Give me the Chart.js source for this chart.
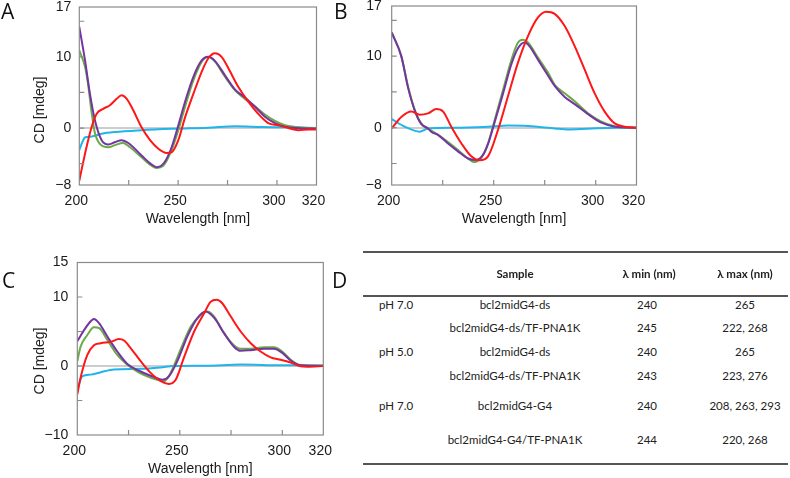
<!DOCTYPE html>
<html>
<head>
<meta charset="utf-8">
<script src="https://cdn.jsdelivr.net/npm/chart.js@4/dist/chart.umd.min.js"></script>
<style>
  body { margin: 0; background: #fff; }
  #wrap { position: relative; width: 790px; height: 478px; overflow: hidden; font-family: "Liberation Sans", Arial, sans-serif; }
  canvas { position: absolute; }
  .panel { position: absolute; font-family: "Open Sans", sans-serif; font-size: 21px; color: #111; line-height: 1; }
  .ytitle { position: absolute; font-size: 14px; color: #222; transform: rotate(-90deg); transform-origin: center; white-space: nowrap; width: 80px; text-align: center; line-height: 16px; }
  .tbl { position: absolute; font-family: Lato, "Open Sans", sans-serif; font-size: 11.5px; color: #222; white-space: nowrap; line-height: 14px; }
  .c { transform: translateX(-50%); }
  .b { font-weight: bold; }
  .rule { position: absolute; left: 363px; width: 425px; background: #555; }
</style>
</head>
<body>
<div id="wrap">
  <canvas id="chartA" width="330" height="235" style="left:0;top:0;width:330px;height:235px"></canvas>
  <canvas id="chartB" width="330" height="235" style="left:330px;top:0;width:330px;height:235px"></canvas>
  <canvas id="chartC" width="335" height="238" style="left:0;top:240px;width:335px;height:238px"></canvas>

  <div class="panel" style="left:1px;top:1px">A</div>
  <div class="panel" style="left:334px;top:1px">B</div>
  <div class="panel" style="left:2px;top:270px">C</div>
  <div class="panel" style="left:332px;top:270px">D</div>

  <div class="ytitle" style="left:-1px;top:102px">CD [mdeg]</div>
  <div class="ytitle" style="left:-1px;top:353px">CD [mdeg]</div>

  <div id="table"></div>
</div>

<script>
// panel A: pH 7.0, bcl2midG4-ds
const aGreenX = [200, 202.9, 204.4, 206.1, 207.8, 210.3, 214.7, 218, 222.2, 225.6, 231.5, 236.6, 239.1, 242.5, 246.7, 250.1, 253.5, 257.7, 261.9, 265.3, 268.7, 273.7, 278.8, 283.8, 288.9, 293.9, 299, 304, 309.1, 314, 320];
const aGreenY = [10.9, 8.6, 6.2, 2.5, -0.6, -2.2, -2.7, -2.4, -2.1, -2.7, -4.1, -5.3, -5.6, -5.3, -3.1, -0.3, 3.0, 6.7, 9.3, 10.0, 9.3, 7.2, 5.3, 4.1, 3.05, 1.9, 1.0, 0.4, 0.15, 0.05, 0];
const aPurpleX = [200, 202.9, 205.4, 207.9, 211.3, 214.7, 218, 221.4, 224.8, 231.5, 236, 239.1, 243.1, 246.7, 250.1, 253.5, 257.7, 261.9, 265.3, 268.7, 273.7, 278.8, 283.8, 288.9, 293.9, 299, 304, 310, 320];
const aPurpleY = [14.2, 9.5, 4.8, 1.1, -1.7, -2.3, -2.0, -1.7, -2.1, -3.85, -5.0, -5.5, -4.8, -2.7, 0.4, 3.7, 7.2, 9.5, 10.0, 9.4, 7.4, 5.4, 4.3, 3.0, 1.6, 0.7, 0.2, 0, -0.1];
const aRedX = [200, 202.9, 206.2, 208.8, 212.1, 215.5, 218.9, 221.4, 224, 227.3, 231.5, 235.8, 240, 244.2, 246.7, 250.1, 253.5, 257.7, 261.9, 265.3, 268.7, 272, 275.4, 280.4, 285.5, 290.5, 295.6, 300.7, 305.7, 310.8, 315.9, 320];
const aRedY = [-7.4, -3.6, 0.1, 2.0, 2.7, 3.2, 4.1, 4.6, 4.1, 2.5, 0.1, -1.7, -2.9, -3.5, -3.4, -1.7, 1.5, 4.8, 7.9, 9.8, 10.5, 10.0, 8.4, 5.8, 3.7, 2.0, 0.7, 0.4, 0, -0.3, -0.2, -0.2];
const aBlueX = [200, 201.5, 203, 206.2, 211.3, 218, 231.5, 248.4, 265.3, 278.8, 292.3, 305, 320];
const aBlueY = [-3.1, -2.0, -1.3, -1.2, -0.8, -0.55, -0.3, -0.1, 0.05, 0.25, 0.15, 0.1, 0];

// panel B: pH 5.0, bcl2midG4-ds
const bGreenX = [200, 204.7, 208, 211.3, 214.5, 217.8, 222.7, 227.6, 232.5, 237.4, 240.7, 244, 247.2, 250.5, 254.6, 258.7, 261.9, 264.4, 266.8, 271.7, 276.6, 279.9, 284.8, 289.7, 296.2, 302.8, 309.3, 314, 320];
const bGreenY = [13.3, 10, 5.8, 2.5, 0.6, -0.1, -1.0, -2.0, -3.1, -4.3, -4.8, -4.1, -2.2, 1.1, 5.3, 9.5, 11.9, 12.3, 11.9, 9.8, 7.7, 6.0, 4.8, 3.7, 2.0, 0.85, 0.2, 0.05, 0];
const bPurpleX = [200, 204.7, 208, 211.3, 214.5, 217.8, 219.5, 222.7, 227.6, 232.5, 237.4, 241.5, 244.8, 247.2, 250.5, 254.6, 258.7, 261.9, 265.2, 267.5, 271.7, 276.6, 280, 284.8, 289.7, 296.2, 302.8, 309.3, 320];
const bPurpleY = [13.3, 10, 5.6, 2.4, 0.5, -0.1, -0.6, -1.0, -2.2, -3.3, -4.3, -4.5, -3.8, -2.3, 0.8, 4.8, 8.9, 11.1, 11.9, 11.4, 9.5, 7.3, 5.8, 4.3, 3.3, 1.9, 0.7, 0.15, 0];
const bRedX = [200, 204.7, 209.6, 213.7, 217.8, 221.9, 225.2, 229.2, 234.2, 239, 243.1, 247.2, 252.1, 257, 261.9, 266.8, 271.7, 275.8, 279.9, 284.8, 289.7, 294.6, 299.5, 304.4, 309.3, 314.2, 320];
const bRedY = [-0.1, 1.5, 2.25, 1.8, 2.0, 2.6, 2.25, 0.15, -2.2, -4.0, -4.55, -4.0, -0.3, 4.4, 9.1, 12.8, 15.4, 16.2, 15.9, 14.2, 11.4, 8.1, 4.8, 2.25, 0.6, 0.15, 0];
const bBlueX = [200, 206.4, 213.7, 217.8, 230, 247.2, 257, 266.8, 280, 286.4, 296, 310, 320];
const bBlueY = [1.2, 0.15, -0.55, -0.1, 0, 0.15, 0.3, 0.25, -0.1, -0.25, -0.15, 0, 0];

// panel C: pH 7.0, bcl2midG4-G4
const cGreenX = [200, 201.6, 204.9, 208.1, 210.6, 214.6, 219.5, 224.4, 229.3, 234.1, 239, 242.3, 245.5, 250.4, 255.3, 260.2, 263.4, 266.7, 271.5, 276.4, 279.7, 284.6, 291.1, 295.9, 300, 304.1, 308.9, 314, 320];
const cGreenY = [0.7, 2.8, 4.5, 5.6, 5.5, 3.8, 1.6, 0.2, -0.8, -1.5, -2.0, -2.2, -1.0, 2.4, 5.7, 7.4, 7.9, 7.2, 4.8, 3.0, 2.5, 2.5, 2.7, 2.7, 2.1, 0.9, 0.1, 0, 0];
const cPurpleX = [200, 203.3, 205.7, 208.1, 210.6, 214.6, 219.5, 224.4, 230.9, 237.4, 241.5, 244.7, 248.8, 253.7, 258.5, 262.6, 266.7, 271.5, 276.4, 279.7, 284.6, 291.1, 295.9, 300, 304.1, 308.9, 320];
const cPurpleY = [3.6, 5.2, 6.2, 6.8, 6.2, 4.3, 2.1, 0.3, -0.8, -1.6, -2.0, -1.5, 0.7, 4.3, 6.9, 7.9, 7.0, 4.8, 2.8, 2.2, 2.3, 2.5, 2.5, 1.9, 0.8, 0.1, 0];
const cRedX = [200, 201.6, 204.9, 208.1, 211.4, 216.3, 220.3, 222.8, 226, 230.9, 235.8, 240.7, 244.7, 248, 252, 257, 261.8, 265, 268, 270.7, 274.8, 279.7, 284.6, 289.4, 294.3, 299.2, 304.1, 308.9, 312.2, 320];
const cRedY = [-4.1, -1.7, 1.6, 3.0, 3.3, 3.5, 3.9, 3.7, 2.6, 0.7, -1.0, -2.2, -2.6, -2.0, 1.2, 5.0, 7.6, 9.3, 9.6, 9.1, 7.2, 5.0, 3.3, 2.1, 1.25, 0.9, 0.5, -0.05, -0.1, 0];
const cBlueX = [200, 202.4, 206.5, 211.4, 217.9, 230.9, 240.7, 247, 263, 279.7, 300, 320];
const cBlueY = [-3.4, -1.5, -1.25, -0.9, -0.5, -0.4, -0.2, 0, 0.05, 0.2, 0.1, 0.1];

// axis ticks
const xTickValues = [200, 225, 250, 275, 300, 320];
const xTickLabels = [200, 250, 300, 320];
const abTickValues = [-8, -5, 0, 5, 10, 15, 17];
const abTickLabels = [-8, 0, 10, 17];
const cTickValues = [-10, -5, 0, 5, 10, 15];
const cTickLabels = [-10, 0, 10, 15];

// table D
const tableHead = ["Sample", "λ min (nm)", "λ max (nm)"];
const tablePh = ["pH 7.0", "", "pH 5.0", "", "pH 7.0", ""];
const tableSample = ["bcl2midG4-ds", "bcl2midG4-ds/TF-PNA1K", "bcl2midG4-ds", "bcl2midG4-ds/TF-PNA1K", "bcl2midG4-G4", "bcl2midG4-G4/TF-PNA1K"];
const tableMin = ["240", "245", "240", "243", "240", "244"];
const tableMax = ["265", "222, 268", "265", "223, 276", "208, 263, 293", "220, 268"];

const colors = { green: "#6aaa48", purple: "#7435a0", red: "#ff1616", blue: "#21b4ea" };

function pts(xs, ys) {
  return xs.map((x, i) => ({ x: x, y: ys[i] }));
}

function line(data, color) {
  return {
    data: data,
    borderColor: color,
    borderWidth: 2,
    pointRadius: 0,
    cubicInterpolationMode: "monotone",
    fill: false,
  };
}

// frame + inward tick marks
const framePlugin = {
  id: "frame",
  afterDatasetsDraw(chart) {
    let ctx = chart.ctx;
    let a = chart.chartArea;
    let xs = chart.scales.x;
    let ys = chart.scales.y;
    ctx.save();
    ctx.strokeStyle = "#8a8a8a";
    ctx.lineWidth = 1.2;
    ctx.strokeRect(a.left, a.top, a.right - a.left, a.bottom - a.top);
    ctx.beginPath();
    xTickValues.forEach((v) => {
      if (v == xs.min || v == xs.max) return;
      let px = xs.getPixelForValue(v);
      ctx.moveTo(px, a.bottom);
      ctx.lineTo(px, a.bottom - 5);
    });
    ys.ticks.forEach((t) => {
      if (t.value == ys.min || t.value == ys.max) return;
      let py = ys.getPixelForValue(t.value);
      ctx.moveTo(a.left, py);
      ctx.lineTo(a.left + 5, py);
    });
    ctx.stroke();
    ctx.restore();
  },
};

function makeChart(id, sets, opt) {
  let font = { family: "'Liberation Sans', Arial, sans-serif", size: 14 };
  // first dataset is drawn on top
  return new Chart(document.getElementById(id), {
    type: "line",
    data: {
      datasets: [
        line(pts(sets[2][0], sets[2][1]), colors.red),
        line(pts(sets[1][0], sets[1][1]), colors.purple),
        line(pts(sets[0][0], sets[0][1]), colors.green),
        line(pts(sets[3][0], sets[3][1]), colors.blue),
      ],
    },
    options: {
      responsive: false,
      animation: false,
      layout: { padding: { left: 0, right: opt.right, top: opt.top, bottom: 0 } },
      plugins: { legend: { display: false }, tooltip: { enabled: false } },
      scales: {
        x: {
          type: "linear",
          min: 200,
          max: 320,
          border: { display: false },
          grid: { display: false, drawTicks: false, tickLength: 0 },
          afterBuildTicks: (s) => { s.ticks = xTickValues.map((v) => ({ value: v })); },
          afterFit: (s) => {
            s.height = opt.xh;
            s.paddingLeft = 0; s.paddingRight = 0;
          },
          ticks: {
            autoSkip: false,
            maxRotation: 0,
            padding: 8,
            labelOffset: -3,
            color: "#1a1a1a",
            font: font,
            callback: (v) => (xTickLabels.includes(v) ? String(v) : ""),
          },
          title: {
            display: opt.xTitle,
            text: "Wavelength [nm]",
            color: "#1a1a1a",
            font: font,
            padding: { top: 0, bottom: opt.xTitlePad },
          },
        },
        y: {
          min: opt.yTicks[0],
          max: opt.yTicks[opt.yTicks.length - 1],
          border: { display: false },
          grid: {
            drawTicks: false,
            tickLength: 0,
            lineWidth: 2,
            color: (c) => (c.tick && c.tick.value === 0 ? "#cdcdcd" : "rgba(0,0,0,0)"),
          },
          afterBuildTicks: (s) => { s.ticks = opt.yTicks.map((v) => ({ value: v })); },
          afterFit: (s) => {
            s.width = opt.yw;
            s.paddingTop = 0; s.paddingBottom = 0;
          },
          ticks: {
            autoSkip: false,
            padding: opt.yPad,
            color: "#1a1a1a",
            font: font,
            callback: (v) => (opt.yLabels.includes(v) ? String(v).replace("-", "\u2212") : ""),
          },
        },
      },
    },
    plugins: [framePlugin],
  });
}

makeChart("chartA", [[aGreenX, aGreenY], [aPurpleX, aPurpleY], [aRedX, aRedY], [aBlueX, aBlueY]],
  { right: 13.5, top: 7, xh: 50, yw: 79.3, yPad: 8, yTicks: abTickValues, yLabels: abTickLabels, xTitle: true, xTitlePad: 7.6 });
makeChart("chartB", [[bGreenX, bGreenY], [bPurpleX, bPurpleY], [bRedX, bRedY], [bBlueX, bBlueY]],
  { right: 23.5, top: 6, xh: 50, yw: 61.7, yPad: 10, yTicks: abTickValues, yLabels: abTickLabels, xTitle: true, xTitlePad: 7.6 });
makeChart("chartC", [[cGreenX, cGreenY], [cPurpleX, cPurpleY], [cRedX, cRedY], [cBlueX, cBlueY]],
  { right: 11.7, top: 22.5, xh: 43, yw: 77.3, yPad: 9, yTicks: cTickValues, yLabels: cTickLabels, xTitle: true, xTitlePad: 0.6 });

// table D
function buildTable() {
  let box = document.getElementById("table");
  let html = "";
  html += '<div class="rule" style="top:251px;height:2px"></div>';
  html += '<div class="rule" style="top:295px;height:1.5px"></div>';
  html += '<div class="rule" style="top:463px;height:2px"></div>';
  let colX = [515, 649, 745];
  tableHead.forEach((h, i) => {
    html += `<div class="tbl c b" style="left:${colX[i]}px;top:267px">${h}</div>`;
  });
  let rowY = [305, 328, 352, 376, 406, 440];
  tableSample.forEach((s, i) => {
    let top = rowY[i] - 7;
    if (tablePh[i]) html += `<div class="tbl" style="left:379px;top:${top}px">${tablePh[i]}</div>`;
    html += `<div class="tbl c" style="left:515px;top:${top}px">${s}</div>`;
    html += `<div class="tbl c" style="left:647px;top:${top}px">${tableMin[i]}</div>`;
    html += `<div class="tbl c" style="left:745px;top:${top}px">${tableMax[i]}</div>`;
  });
  box.innerHTML = html;
}
buildTable();
</script>
</body>
</html>
